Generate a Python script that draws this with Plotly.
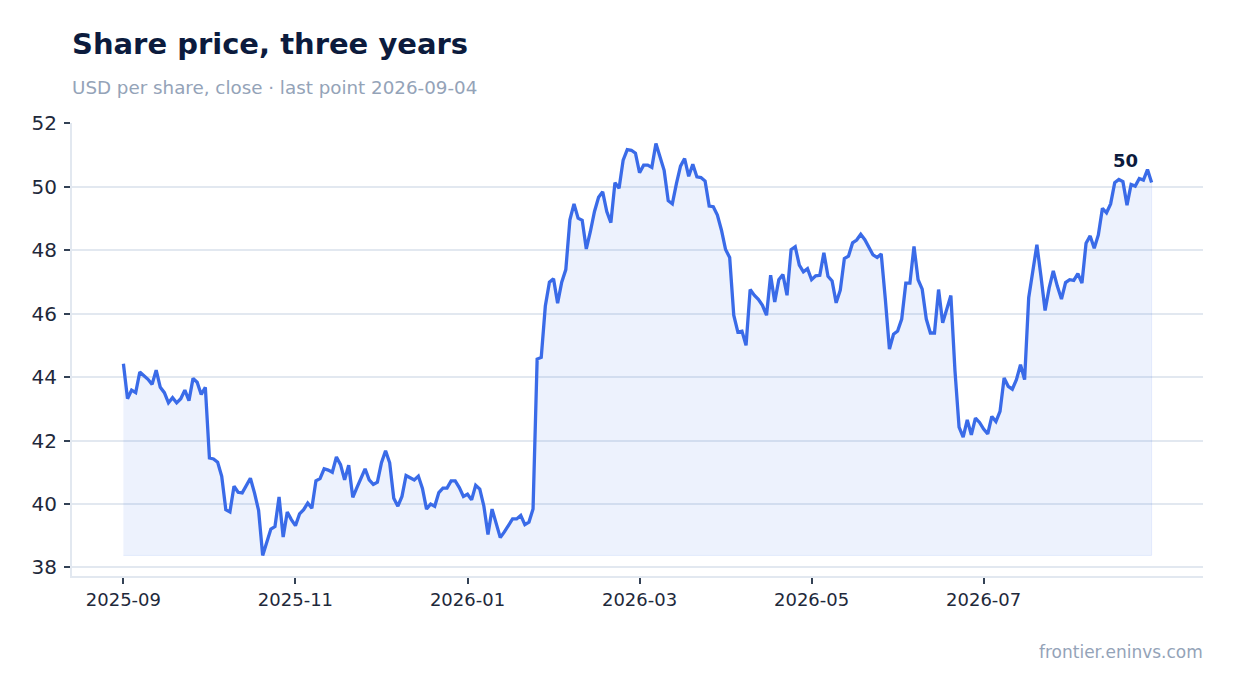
import pandas as pd
import plotly.graph_objects as go

# business days ending on the last close
dates = pd.bdate_range(end="2026-09-04", periods=252).strftime("%Y-%m-%d").tolist()

prices = [
    44.42, 43.32, 43.59, 43.51, 44.16, 44.05, 43.93, 43.77, 44.22, 43.68,
    43.51, 43.19, 43.35, 43.19, 43.32, 43.59, 43.26, 43.96, 43.84, 43.45,
    43.68, 41.45, 41.42, 41.32, 40.87, 39.82, 39.75, 40.56, 40.37, 40.35,
    40.56, 40.81, 40.35, 39.80, 38.38, 38.77, 39.21, 39.29, 40.22, 38.96,
    39.75, 39.51, 39.32, 39.69, 39.82, 40.03,
    39.87, 40.73, 40.80, 41.11, 41.07, 41.00, 41.48, 41.24, 40.76, 41.22,
    40.21, 40.52, 40.80, 41.11, 40.76, 40.62, 40.69, 41.30, 41.68, 41.30,
    40.18, 39.93, 40.24, 40.90, 40.83, 40.76, 40.88, 40.49, 39.84, 40.00,
    39.93, 40.36, 40.50, 40.50, 40.73, 40.73, 40.52, 40.24, 40.31, 40.13,
    40.59, 40.47, 39.93, 39.04, 39.84, 39.43, 38.94, 39.12, 39.31, 39.53,
    39.53, 39.64, 39.35, 39.43, 39.84,
    44.57, 44.62, 46.24, 46.99, 47.10, 46.33, 46.99, 47.39, 48.96, 49.46,
    49.01, 48.94, 48.04, 48.59, 49.22, 49.67, 49.84, 49.22, 48.87, 50.13,
    49.95, 50.84, 51.17, 51.15, 51.06, 50.44, 50.68, 50.68, 50.61, 51.36,
    50.94, 50.52, 49.56, 49.46, 50.10, 50.65, 50.89, 50.33, 50.71, 50.31,
    50.29, 50.18, 49.39, 49.37, 49.11, 48.63, 48.02, 47.77, 45.95, 45.42,
    45.45, 45.00, 46.76, 46.58, 46.45, 46.26, 45.95, 47.21, 46.37, 47.07,
    47.23, 46.58, 48.02, 48.11, 47.53, 47.32, 47.42, 47.07, 47.19, 47.21,
    47.92, 47.18, 47.03, 46.34, 46.74, 47.74, 47.81, 48.23, 48.32, 48.50,
    48.33, 48.09, 47.85, 47.77, 47.88, 46.46, 44.88, 45.35, 45.45, 45.83,
    46.96, 46.96, 48.12, 47.07, 46.77, 45.83, 45.39, 45.39, 46.76, 45.71,
    46.15, 46.57, 44.20, 42.42, 42.11, 42.65, 42.18, 42.71, 42.57, 42.36,
    42.21, 42.76, 42.60, 42.92, 43.97, 43.71, 43.62, 43.92, 44.39, 43.92,
    46.50, 47.28, 48.17, 47.17, 46.10, 46.81, 47.35, 46.86, 46.46, 46.98,
    47.07, 47.05, 47.26, 46.96, 48.22, 48.45, 48.06, 48.48, 49.32, 49.18,
    49.46, 50.13, 50.23, 50.16, 49.42, 50.07, 50.02, 50.26, 50.21, 50.54,
    50.13,
]

tick_labels = ["2025-09", "2025-11", "2026-01", "2026-03", "2026-05", "2026-07"]

LINE = "#3a6be8"
NAVY = "#0c1b3d"
MUTED = "#94a3b8"
GRID = "#e2e8f0"
FONT = "DejaVu Sans"

n = len(prices)
floor = min(prices)
pad = 0.05 * (max(prices) - floor)

fig = go.Figure()

# shaded area under the line, down to the lowest close
fig.add_trace(go.Scatter(
    x=dates + dates[::-1],
    y=prices + [floor] * n,
    fill="toself",
    fillcolor="rgba(58,107,232,0.09)",
    line=dict(width=1, color="rgba(58,107,232,0.10)"),
    hoverinfo="skip",
    showlegend=False,
))
fig.add_trace(go.Scatter(
    x=dates, y=prices, mode="lines",
    line=dict(color=LINE, width=3.3),
    showlegend=False,
))

# page body has an 8px margin, so the figure is sized to sit inside the window
fig.update_layout(
    width=1218, height=677,
    margin=dict(l=64, r=23, t=115, b=109),
    paper_bgcolor="white", plot_bgcolor="white",
    font=dict(family=FONT, color="#1e293b"),
    xaxis=dict(
        type="category",
        range=[-0.05 * (n - 1), 1.05 * (n - 1)],
        tickvals=dates[::42], ticktext=tick_labels,
        showgrid=False, showline=True, linecolor=GRID, linewidth=2,
        ticks="outside", ticklen=6, tickwidth=2, tickcolor="#334155",
        tickfont=dict(size=18),
    ),
    yaxis=dict(
        range=[floor - pad, max(prices) + pad],
        dtick=2, showgrid=True, gridcolor=GRID, gridwidth=1.5,
        zeroline=False, showline=True, linecolor=GRID, linewidth=2,
        ticks="outside", ticklen=6, tickwidth=2, tickcolor="#334155",
        tickfont=dict(size=20), ticklabelstandoff=3,
    ),
    annotations=[
        dict(x=dates[-1], y=prices[-1], text=f"<b>{prices[-1]:.0f}</b>",
             showarrow=False, xanchor="right", yanchor="bottom",
             xshift=-12, yshift=10, font=dict(size=18, color=NAVY)),
        dict(x=0, y=1.174, xref="paper", yref="paper", xanchor="left", yanchor="middle",
             text="<b>Share price, three years</b>", showarrow=False, xshift=-2,
             font=dict(size=29, color=NAVY)),
        dict(x=0, y=1.0777, xref="paper", yref="paper", xanchor="left", yanchor="middle",
             text="USD per share, close · last point 2026-09-04", showarrow=False, xshift=-2,
             font=dict(size=18.3, color=MUTED)),
        dict(x=1, y=-0.168, xref="paper", yref="paper", xanchor="right", yanchor="middle",
             text="frontier.eninvs.com", showarrow=False, xshift=2,
             font=dict(size=17, color=MUTED)),
    ],
)

fig.write_html("out.html")
